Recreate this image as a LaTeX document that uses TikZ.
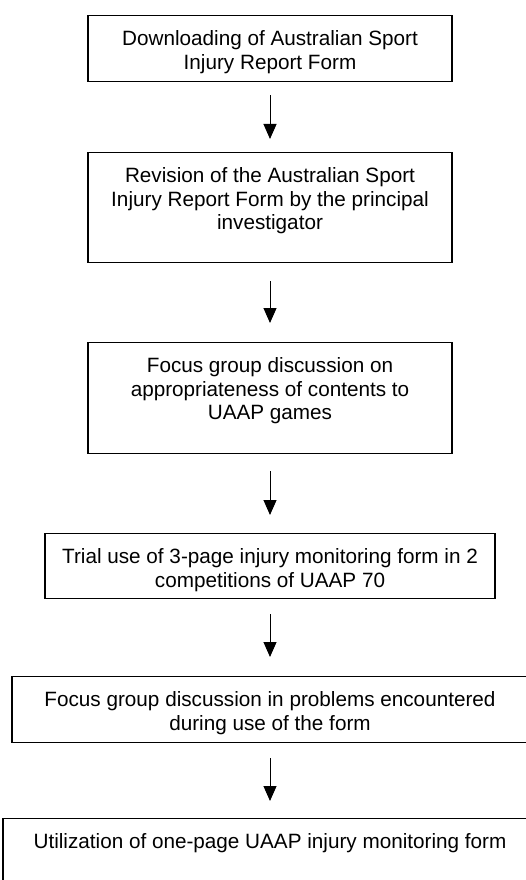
\documentclass[tikz,border=0pt]{standalone}
\usepackage{fontspec}
\setmainfont{Liberation Sans}
\usetikzlibrary{arrows.meta}
\begin{document}
\begin{tikzpicture}[x=1pt,y=-1pt,
  box/.style={draw=black, line width=1.2pt, rectangle, inner sep=0pt, anchor=north},
  txt/.style={anchor=north, inner sep=0pt, align=center, font=\fontsize{20.7}{23.5}\selectfont},
  arr/.style={line width=1pt, -{Triangle[width=13pt,length=15pt]}}]
\useasboundingbox (0,0) rectangle (526,880);
\clip (0,0) rectangle (526,880);
\fill[white] (0,0) rectangle (526,880);

\node[box, minimum width=364pt, minimum height=66pt] (b1) at (270,15) {};
\node[box, minimum width=364pt, minimum height=110pt] (b2) at (270,152) {};
\node[box, minimum width=364pt, minimum height=111pt] (b3) at (270,342) {};
\node[box, minimum width=450pt, minimum height=65pt] (b4) at (270,533) {};
\node[box, minimum width=516pt, minimum height=66pt] (b5) at (270,676) {};
\node[box, minimum width=534pt, minimum height=75pt] (b6) at (270,818) {};

\node[txt] (t1) at ([yshift=-14pt]b1.north) {\strut Downloading of Australian Sport\\Injury Report Form};
\node[txt] (t2) at ([yshift=-14pt]b2.north) {\strut Revision of the Australian Sport\\Injury Report Form by the principal\\investigator};
\node[txt] (t3) at ([yshift=-14pt]b3.north) {\strut Focus group discussion on\\appropriateness of contents to\\UAAP games};
\node[txt] (t4) at ([yshift=-14pt]b4.north) {\strut Trial use of 3-page injury monitoring form in 2\\competitions of UAAP 70};
\node[txt] (t5) at ([yshift=-14pt]b5.north) {\strut Focus group discussion in problems encountered\\during use of the form};
\node[txt] (t6) at ([yshift=-14pt]b6.north) {\strut Utilization of one-page UAAP injury monitoring form};

\draw[arr, shorten <=13pt, shorten >=13pt] (b1.south) -- (b2.north);
\draw[arr, shorten <=18pt, shorten >=19pt] (b2.south) -- (b3.north);
\draw[arr, shorten <=17pt, shorten >=18pt] (b3.south) -- (b4.north);
\draw[arr, shorten <=15pt, shorten >=19pt] (b4.south) -- (b5.north);
\draw[arr, shorten <=15pt, shorten >=17pt] (b5.south) -- (b6.north);
\end{tikzpicture}
\end{document}
